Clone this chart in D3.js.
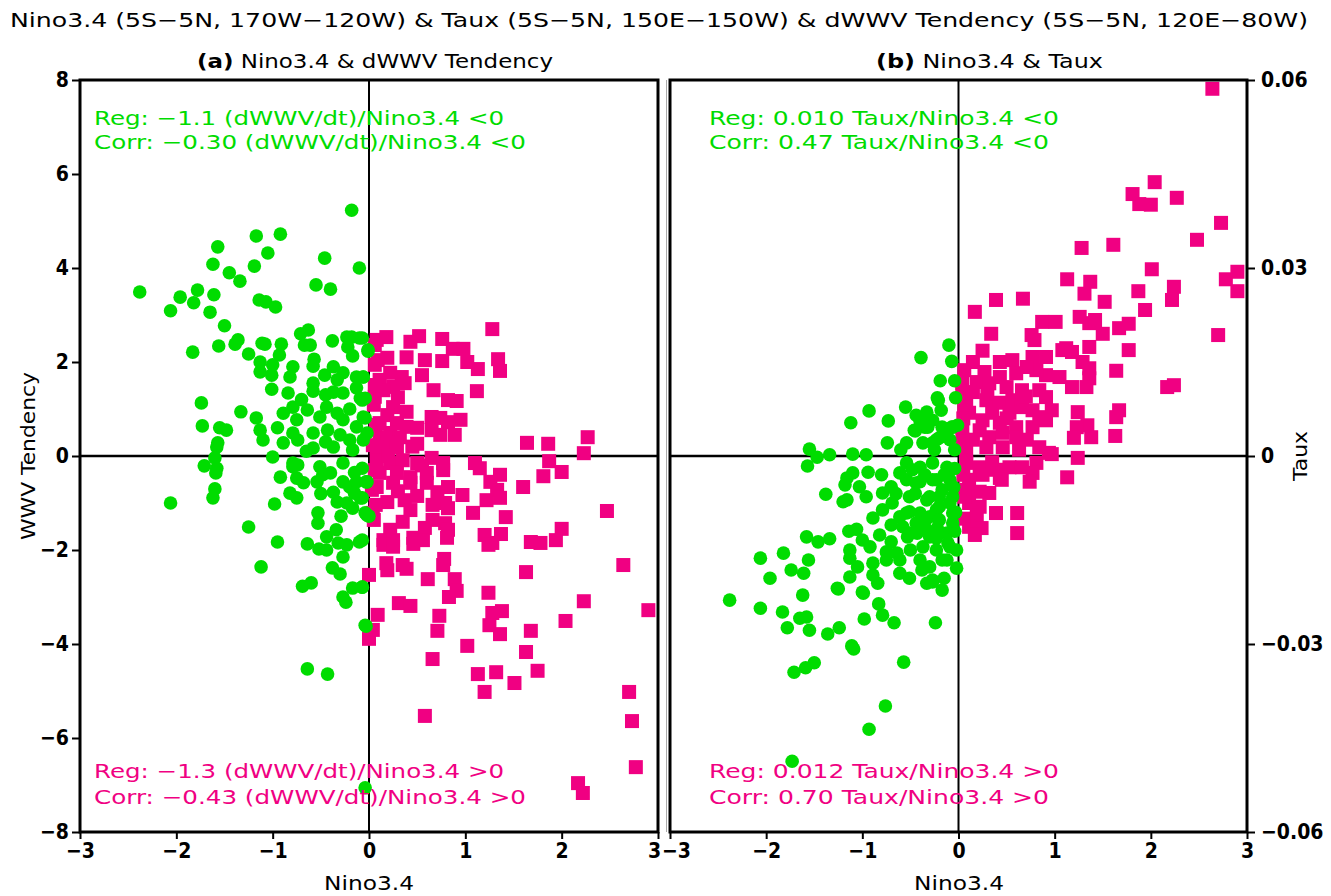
<!DOCTYPE html>
<html>
<head>
<meta charset="utf-8">
<script src="https://cdn.jsdelivr.net/npm/d3@7"></script>
<style>
  body { margin: 0; background: #fff; }
  svg { display: block; background: #fff; }
</style>
</head>
<body>
<svg id="chart" width="1331" height="896"></svg>
<script>
'use strict'

/****** DATA ******/

const X_TICKS = [-3, -2, -1, 0, 1, 2, 3]
const WWV_TICKS = [-8, -6, -4, -2, 0, 2, 4, 6, 8]
const TAUX_TICKS = [-0.06, -0.03, 0, 0.03, 0.06]
const TAUX_TICK_LABELS = ['−0.06', '−0.03', '0', '0.03', '0.06']

const TITLE = 'Nino3.4 (5S−5N, 170W−120W) & Taux (5S−5N, 150E−150W) & dWWV Tendency (5S−5N, 120E−80W)'
const STATS_A_NEG = ['Reg: −1.1 (dWWV/dt)/Nino3.4 <0', 'Corr: −0.30 (dWWV/dt)/Nino3.4 <0']
const STATS_A_POS = ['Reg: −1.3 (dWWV/dt)/Nino3.4 >0', 'Corr: −0.43 (dWWV/dt)/Nino3.4 >0']
const STATS_B_NEG = ['Reg: 0.010 Taux/Nino3.4 <0', 'Corr: 0.47 Taux/Nino3.4 <0']
const STATS_B_POS = ['Reg: 0.012 Taux/Nino3.4 >0', 'Corr: 0.70 Taux/Nino3.4 >0']

// (a) [Nino3.4, dWWV/dt] where Nino3.4 < 0
const wwvNeg = [
  [-0.18,5.23],[-0.92,4.72],[-1.17,4.68],[-1.57,4.45],[-1.05,4.32],[-0.46,4.21],[-1.62,4.08],[-1.19,4.04],
  [-0.10,4.0],[-1.45,3.9],[-1.34,3.72],[-0.55,3.64],[-0.40,3.55],[-2.38,3.49],[-1.78,3.53],[-1.96,3.38],
  [-1.61,3.43],[-1.82,3.26],[-2.06,3.09],[-1.65,3.06],[-1.14,3.32],[-1.07,3.28],[-0.97,3.17],[-1.50,2.77],
  [-1.83,2.21],[-1.56,2.34],[-1.39,2.38],[-1.36,2.47],[-1.25,2.17],[-1.13,2.0],[-1.11,2.40],[-1.08,2.38],
  [-0.91,2.38],[-0.93,2.15],[-0.71,2.6],[-0.63,2.68],[-0.67,2.36],[-0.61,2.36],[-0.38,2.45],[-0.23,2.53],
  [-0.18,2.53],[-0.10,2.51],[-0.22,2.32],[-0.01,2.23],[-0.17,2.13],[-0.57,2.06],[-0.58,1.91],[-1.13,1.79],
  [-1.0,1.94],[-0.79,1.90],[-0.82,1.68],[-1.01,1.72],[-0.46,1.72],[-0.37,1.90],[-0.33,1.62],[-0.27,1.77],
  [-0.13,1.68],[-0.06,1.68],[-0.58,1.55],[-0.58,1.38],[-1.01,1.42],[-0.84,1.34],[-0.37,1.36],[-0.27,1.34],
  [-0.13,1.45],[-0.09,1.23],[-1.74,1.13],[-1.33,0.94],[-1.17,0.81],[-1.13,0.55],[-1.10,0.34],[-1.73,0.64],
  [-1.55,0.60],[-1.48,0.55],[-1.57,0.28],[-1.58,0.19],[-1.60,-0.04],[-1.71,-0.21],[-1.58,-0.26],
  [-0.89,0.91],[-0.79,1.04],[-0.64,0.98],[-0.75,0.77],[-0.58,0.49],[-0.79,0.49],[-0.89,0.28],[-0.74,0.34],
  [-0.58,0.17],[-0.51,0.83],[-0.44,1.04],[-0.33,0.91],[-0.27,0.77],[-0.43,0.55],[-0.37,0.19],[-0.20,0.34],
  [-0.13,0.62],[-0.07,1.19],[-0.06,0.83],[-0.02,0.49],[-0.17,0.13],[-1.0,-0.02],[-0.79,-0.15],[-0.51,-0.23],
  [-0.27,-0.15],[-1.59,-0.36],[-1.60,-0.70],[-1.62,-0.89],[-2.06,-1.0],[-1.25,-1.51],[-0.98,-1.02],[-0.92,-0.45],
  [-0.79,-0.23],[-0.74,-0.19],[-0.75,-0.47],[-0.68,-0.57],[-0.82,-0.79],[-0.75,-0.89],[-0.54,-0.55],[-0.48,-0.40],
  [-0.40,-0.36],[-0.37,-0.77],[-0.33,-0.98],[-0.53,-1.21],[-0.53,-1.43],[-0.29,-1.28],[-0.23,-1.0],[-0.17,-1.11],
  [-0.27,-0.55],[-0.20,-0.66],[-0.13,-0.55],[-0.15,-0.79],[-0.09,-0.89],[-0.02,-0.55],[-0.04,-1.21],[0,-1.28],
  [-0.95,-1.83],[-0.64,-1.87],[-0.52,-1.98],[-0.44,-2.0],[-0.44,-1.72],[-0.34,-1.57],[-0.32,-1.85],[-0.23,-1.89],
  [-0.10,-1.83],[-0.27,-2.15],[-1.12,-2.36],[-0.38,-2.38],[-0.30,-2.51],[-0.69,-2.77],[-0.60,-2.70],[-0.17,-2.81],
  [-0.07,-2.79],[-0.27,-3.0],[-0.24,-3.11],[-0.03,-3.62],[-0.64,-4.53],[-0.43,-4.64],[-0.04,-7.06],
  [-0.07,2.51],[-0.01,2.26],[-0.06,1.68],[-0.04,1.23],[-0.04,0.81],[-0.06,0.34],[-0.07,-0.26],[-0.03,-0.55],
  [-0.07,-0.89],[-0.02,-1.26],[-0.07,-1.79],[-0.07,-2.79],[-0.04,-3.60],
  [-0.45,1.30],[-0.70,1.20],[-0.95,0.60],[-0.45,0.30],[-0.65,0.10],[-0.30,0.45],[-0.20,1.00],[-0.50,-0.80],
  [-0.15,-0.35]
]

// (a) [Nino3.4, dWWV/dt] where Nino3.4 > 0
const wwvPos = [
  [1.28,2.70],[0.18,2.53],[0.08,2.47],[0.43,2.43],[0.52,2.55],[0.76,2.49],[0.87,2.28],[0.98,2.28],
  [1.34,2.06],[1.36,1.81],[1.13,1.85],[1.02,2.0],[0.76,2.02],[0.58,2.04],[0.39,2.1],[0.19,2.09],
  [0.09,2.04],[0.55,1.72],[0.22,1.77],[0.11,1.62],[0.34,1.68],[0.37,1.55],[0.25,1.47],[0.15,1.40],
  [0.06,1.26],[0.67,1.40],[0.82,1.19],[0.91,1.17],[1.12,1.38],[0.25,1.04],[0.39,0.94],[0.19,0.87],
  [0.11,0.70],[0.29,0.70],[0.39,0.62],[0.50,0.60],[0.22,0.49],[0.11,0.40],[0.32,0.40],[0.19,0.28],
  [0.29,0.19],[0.08,0.19],[0.65,0.83],[0.74,0.81],[0.82,0.72],[0.95,0.77],[0.65,0.55],[0.74,0.45],
  [0.89,0.45],[0.50,0.26],[1.64,0.28],[1.86,0.26],[2.27,0.40],[2.23,0.06],[1.87,-0.11],
  [0.08,-0.09],[0.22,-0.15],[0.35,-0.09],[0.50,-0.15],[0.65,-0.04],[0.77,-0.15],[0.11,-0.36],[0.29,-0.36],
  [0.43,-0.45],[0.60,-0.36],[0.77,-0.30],[0.08,-0.66],[0.25,-0.57],[0.43,-0.57],[0.60,-0.57],[0.82,-0.66],
  [0.71,-0.77],[0.97,-0.83],[1.10,-0.15],[1.15,-0.26],[1.36,-0.40],[1.26,-0.55],[1.33,-0.72],[1.60,-0.66],
  [1.81,-0.43],[2.0,-0.34],[1.22,-0.94],[1.36,-0.89],[1.08,-1.21],[1.42,-1.30],[2.47,-1.17],
  [0.19,-0.98],[0.37,-0.94],[0.43,-1.15],[0.66,-1.04],[0.79,-1.0],[0.82,-1.11],[0.04,-1.21],[0.35,-1.40],
  [0.22,-1.57],[0.66,-1.36],[0.79,-1.43],[0.82,-1.57],[0.58,-1.53],[0.15,-1.79],[0.25,-1.79],[0.46,-1.74],
  [0.56,-1.79],[0.81,-1.74],[1.20,-1.68],[1.37,-1.66],[1.28,-1.85],[1.68,-1.83],[1.78,-1.85],[1.94,-1.79],
  [2.0,-1.55],[0.15,-1.89],[0.25,-1.93],[0.46,-1.87],[1.24,-1.89],
  [0.18,-2.28],[0.19,-2.43],[0.35,-2.32],[0.39,-2.40],[0.78,-2.19],[0.77,-2.32],[0.0,-2.53],[0.61,-2.62],
  [0.89,-2.62],[0.91,-2.87],[0.83,-3.0],[1.24,-2.91],[1.63,-2.47],[2.64,-2.32],[2.23,-3.09],[2.90,-3.28],
  [2.04,-3.51],[0.31,-3.13],[0.43,-3.19],[0.09,-3.38],[0.73,-3.40],[1.28,-3.34],[1.38,-3.30],[1.25,-3.60],
  [1.36,-3.79],[1.68,-3.72],[0.04,-3.70],[0.0,-3.89],[0.71,-3.72],[1.02,-4.04],[1.63,-4.17],[0.66,-4.32],
  [1.75,-4.57],[1.13,-4.64],[1.32,-4.60],[1.20,-5.02],[1.51,-4.83],[2.70,-5.02],[2.73,-5.64],[0.58,-5.53],
  [2.77,-6.62],[2.17,-6.96],[2.22,-7.17],
  [0.06,2.36],[0.06,1.94],[0.06,1.51],[0.05,1.09],[0.07,0.66],[0.04,0.23],[0.06,-0.30],[0.03,-0.72],
  [0.07,-1.04],[0.05,-1.36],
  [0.30,1.25],[0.45,0.20],[0.55,-0.20],[0.30,-0.75],[0.50,-0.85],[0.20,0.00]
]

// (b) [Nino3.4, Taux] where Nino3.4 < 0
const tauxNeg = [
  [-0.10,0.0177],[-0.39,0.0157],[-0.07,0.0151],[-0.19,0.0120],[-0.03,0.0093],[-0.22,0.0093],[-0.18,0.0073],
  [-0.55,0.0078],[-0.44,0.0065],[-0.33,0.0070],[-0.27,0.0057],[-0.46,0.0041],[-0.35,0.0046],[-0.17,0.0046],
  [-0.06,0.0046],[-0.54,0.0021],[-0.37,0.0021],[-0.23,0.0026],[-0.09,0.0026],[-0.01,0.0049],
  [-0.54,-0.0011],[-0.40,-0.0018],[-0.27,-0.0011],[-0.12,-0.0018],[-0.54,-0.0038],[-0.40,-0.0041],
  [-0.23,-0.0038],[-0.09,-0.0038],[-0.51,-0.0065],[-0.33,-0.0070],[-0.20,-0.0065],[-0.06,-0.0065],
  [-0.54,-0.0091],[-0.40,-0.0091],[-0.23,-0.0086],[-0.06,-0.0091],[-0.51,-0.0123],[-0.33,-0.0118],
  [-0.12,-0.0123],[-0.37,-0.0145],[-0.23,-0.0150],[-0.09,-0.0145],
  [-0.21,0.0089],[-0.93,0.0072],[-0.73,0.0056],[-1.12,0.0053],[-0.40,0.0056],[-0.32,0.0046],[-0.45,0.0040],
  [-0.20,0.0029],[-0.27,0.0021],[-0.74,0.0021],[-0.12,0.0041],[-0.07,0.0046],
  [-1.55,0.0011],[-1.47,-0.0002],[-1.34,0.0002],[-1.10,0.0003],[-0.96,0.0002],[-1.57,-0.0016],
  [-1.16,-0.0035],[-1.10,-0.0027],[-0.94,-0.0026],[-1.18,-0.0046],[-1.03,-0.0049],[-1.16,-0.0070],
  [-0.96,-0.0065],[-0.79,-0.0059],[-0.70,-0.0049],[-0.61,-0.0027],[-0.48,-0.0022],[-0.44,-0.0043],
  [-0.27,-0.0038],[-0.30,-0.0065],[-0.17,-0.0054],[-1.38,-0.0061],[-1.20,-0.0073],
  [-0.89,-0.0099],[-0.79,-0.0086],[-0.69,-0.0075],[-0.61,-0.0097],[-0.51,-0.0089],[-0.44,-0.0107],
  [-0.58,-0.0113],[-0.30,-0.0097],[-0.20,-0.0102],[-0.20,-0.0081],[-0.09,-0.0075],[-0.06,-0.0107],
  [-0.22,-0.0115],[-1.58,-0.0129],[-1.46,-0.0137],[-1.34,-0.0132],[-1.14,-0.0120],[-1.06,-0.0117],
  [-1.00,-0.0134],[-1.13,-0.0150],[-0.92,-0.0145],[-0.82,-0.0126],[-0.70,-0.0137],[-0.75,-0.0153],
  [-0.64,-0.0155],[-0.53,-0.0129],[-0.43,-0.0123],[-0.30,-0.0129],[-0.23,-0.0131],
  [-0.11,-0.0139],[-0.12,-0.0166],[-0.02,-0.0150],[-0.02,-0.0179],
  [-2.06,-0.0163],[-1.82,-0.0155],[-1.56,-0.0166],[-1.74,-0.0182],[-1.61,-0.0187],[-1.96,-0.0195],
  [-1.13,-0.0163],[-1.05,-0.0177],[-1.13,-0.0193],[-0.89,-0.0171],[-0.89,-0.0190],[-0.75,-0.0166],
  [-0.61,-0.0166],[-0.61,-0.0187],[-0.51,-0.0195],[-0.40,-0.0166],[-0.38,-0.0182],[-0.30,-0.0177],
  [-0.17,-0.0166],[-0.27,-0.0198],[-0.15,-0.0195],
  [-1.26,-0.0211],[-1.00,-0.0217],[-0.84,-0.0203],[-2.38,-0.0230],[-1.62,-0.0222],
  [-2.06,-0.0243],[-1.83,-0.0249],[-1.65,-0.0259],[-1.58,-0.0257],[-1.78,-0.0274],[-1.55,-0.0278],
  [-1.36,-0.0284],[-1.24,-0.0274],[-1.25,-0.0212],[-0.99,-0.0219],[-0.83,-0.0236],[-0.79,-0.0254],
  [-0.98,-0.0260],[-0.67,-0.0266],[-1.11,-0.0303],[-1.09,-0.0308],[-0.33,-0.0203],[-0.27,-0.0201],
  [-0.17,-0.0214],[-0.24,-0.0266],[-0.57,-0.0329],[-1.71,-0.0345],[-1.59,-0.0338],[-1.50,-0.0330],
  [-0.76,-0.0399],[-0.93,-0.0436],[-1.73,-0.0487],
  [-0.04,0.0120],[-0.04,0.0010],[-0.04,-0.0020],[-0.05,-0.0050],[-0.03,-0.0090],[-0.04,-0.0120],
  [-0.45,-0.0060],[-0.35,-0.0030],[-0.15,-0.0030],[-0.50,-0.0150],[-0.35,-0.0105],[-0.65,-0.0060],
  [-0.25,0.0010],[-0.60,0.0010],[-0.80,-0.0030],[-0.70,-0.0110]
]

// (b) [Nino3.4, Taux] where Nino3.4 > 0
const tauxPos = [
  [2.64,0.0586],[2.04,0.0437],[1.81,0.0418],[1.88,0.0402],[2.0,0.0401],[2.27,0.0412],[2.73,0.0372],
  [2.48,0.0345],[1.28,0.0332],[1.61,0.0337],[2.01,0.0298],[1.13,0.0282],[1.37,0.0278],[1.31,0.0259],
  [1.52,0.0246],[1.87,0.0263],[2.24,0.0270],[2.22,0.0249],[2.78,0.0282],[2.90,0.0294],[2.90,0.0263],
  [1.94,0.0233],[0.17,0.0230],[0.39,0.0249],[0.67,0.0251],[0.87,0.0214],[1.01,0.0214],[1.26,0.0222],
  [1.36,0.0212],[1.42,0.0217],[1.50,0.0195],[1.67,0.0204],[1.77,0.0211],[2.70,0.0193],[0.34,0.0195],
  [0.76,0.0193],[0.79,0.0185],[0.25,0.0168],[1.12,0.0172],[1.36,0.0174],[1.77,0.0169],
  [1.64,0.0136],[2.17,0.0110],[2.24,0.0113],[0.06,0.0137],
  [0.43,0.0150],[0.56,0.0153],[0.77,0.0158],[0.91,0.0158],[1.08,0.0169],[1.18,0.0166],[1.29,0.0150],
  [1.36,0.0140],[1.36,0.0124],[1.33,0.0110],[1.18,0.0110],[1.05,0.0126],[0.91,0.0129],[0.81,0.0137],
  [0.71,0.0142],[0.27,0.0134],[0.43,0.0126],[0.60,0.0132],[0.19,0.0118],[0.32,0.0116],[0.50,0.0110],
  [0.66,0.0105],[0.84,0.0105],[0.91,0.0094],[0.97,0.0073],[0.91,0.0057],[0.77,0.0046],[0.60,0.0046],
  [0.43,0.0053],[0.25,0.0057],[0.11,0.0069],[0.08,0.0089],[0.15,0.0102],[0.29,0.0089],[0.43,0.0085],
  [0.56,0.0089],[0.66,0.0078],[0.77,0.0073],[0.84,0.0062],[0.53,0.0069],[0.35,0.0069],[0.22,0.0041],
  [0.32,0.0030],[0.46,0.0037],[0.60,0.0030],[0.71,0.0026],[0.15,0.0026],[0.29,0.0014],[0.46,0.0014],
  [0.63,0.0010],[0.84,0.0014],[0.94,0.0005],[0.08,0.0005],[0.04,0.0026],[0.04,0.0046],[0.04,0.0116],
  [0.06,0.0073],[1.24,0.0070],[1.34,0.0049],[1.23,0.0046],[1.38,0.0030],[1.20,0.0029],[1.67,0.0073],
  [1.64,0.0062],[1.63,0.0032],[1.24,-0.0003],[0.97,0.0003],[1.13,-0.0034],
  [0.08,-0.0011],[0.22,-0.0018],[0.39,-0.0022],[0.53,-0.0018],[0.66,-0.0018],[0.81,-0.0011],[0.77,-0.0027],
  [0.74,-0.0041],[0.43,-0.0035],[0.25,-0.0030],[0.11,-0.0038],[0.08,-0.0054],[0.22,-0.0057],[0.32,-0.0059],
  [0.11,-0.0075],[0.22,-0.0081],[0.39,-0.0091],[0.19,-0.0097],[0.11,-0.0113],[0.24,-0.0115],[0.17,-0.0126],
  [0.61,-0.0091],[0.61,-0.0123],[0.45,-0.0038],
  [0.05,-0.0030],[0.06,-0.0065],[0.05,-0.0100],[0.04,0.0100],[0.05,0.0060],
  [0.30,0.0100],[0.50,0.0060],[0.70,0.0095],[0.35,-0.0010],[0.15,0.0150]
]

/****** STYLE ******/

const GREEN = '#00dc00'
const MAGENTA = '#f00082'
const TXT_FONT = "'DejaVu Sans', sans-serif"
const TICK_FONT = "'Liberation Sans Narrow', 'DejaVu Sans Condensed', sans-serif"

const TOP = 80, BOTTOM = 832

const svg = d3.select('#chart')

// scales
const xA = d3.scaleLinear().domain([-3, 3]).range([80, 658])
const yA = d3.scaleLinear().domain([-8, 8]).range([BOTTOM, TOP])
const xB = d3.scaleLinear().domain([-3, 3]).range([670, 1247])
const yB = d3.scaleLinear().domain([-0.06, 0.06]).range([BOTTOM, TOP])

/****** FUNCTIONS ******/

function label(x, y, str, opts = {}) {
  const t = svg.append('text')
    .attr('x', x)
    .attr('y', y)
    .attr('font-family', TXT_FONT)
    .attr('font-size', opts.size || 20)
    .attr('fill', opts.color || '#000')
    .attr('text-anchor', opts.anchor || 'start')
    .text(str)
  if (opts.len) t.attr('textLength', opts.len).attr('lengthAdjust', 'spacingAndGlyphs')
  if (opts.rotate) t.attr('transform', `rotate(-90,${x},${y})`)
  return t
}

function styleAxis(g) {
  g.select('.domain').remove()
  g.selectAll('.tick line').attr('stroke', '#000').attr('stroke-width', 2)
  g.selectAll('.tick text')
    .attr('font-family', TICK_FONT)
    .attr('font-weight', 'bold')
    .attr('font-size', 21)
    .attr('fill', '#000')
}

function drawPanel(x, y, neg, pos) {
  const g = svg.append('g')
  const [x0, x1] = x.range()

  // zero lines
  g.append('line')
    .attr('x1', x(0)).attr('x2', x(0))
    .attr('y1', TOP).attr('y2', BOTTOM)
    .attr('stroke', '#000').attr('stroke-width', 2)
  g.append('line')
    .attr('x1', x0).attr('x2', x1)
    .attr('y1', y(0)).attr('y2', y(0))
    .attr('stroke', '#000').attr('stroke-width', 2.5)

  // Nino3.4 > 0 squares, then Nino3.4 < 0 dots on top
  g.selectAll('rect.pos')
    .data(pos)
    .join('rect')
      .attr('class', 'pos')
      .attr('x', d => x(d[0]) - 7)
      .attr('y', d => y(d[1]) - 7)
      .attr('width', 14)
      .attr('height', 14)
      .attr('fill', MAGENTA)

  g.selectAll('circle.neg')
    .data(neg)
    .join('circle')
      .attr('class', 'neg')
      .attr('cx', d => x(d[0]))
      .attr('cy', d => y(d[1]))
      .attr('r', 6.8)
      .attr('fill', GREEN)

  // frame
  g.append('rect')
    .attr('x', x0).attr('y', TOP)
    .attr('width', x1 - x0).attr('height', BOTTOM - TOP)
    .attr('fill', 'none')
    .attr('stroke', '#000')
    .attr('stroke-width', 3)
}

/****** DRAW ******/

drawPanel(xA, yA, wwvNeg, wwvPos)
drawPanel(xB, yB, tauxNeg, tauxPos)

// faint line left of panel b
svg.append('line')
  .attr('x1', 666.5).attr('x2', 666.5)
  .attr('y1', TOP).attr('y2', BOTTOM)
  .attr('stroke', '#aaa').attr('stroke-width', 1)

// axes
const axA = svg.append('g')
  .attr('transform', `translate(0,${BOTTOM})`)
  .call(d3.axisBottom(xA).tickValues(X_TICKS).tickSize(7).tickPadding(4).tickFormat(d3.format('d')))
  .call(styleAxis)

const axB = svg.append('g')
  .attr('transform', `translate(0,${BOTTOM})`)
  .call(d3.axisBottom(xB).tickValues(X_TICKS).tickSize(7).tickPadding(4).tickFormat(d3.format('d')))
  .call(styleAxis)

// the "3" and "-3" labels meet between the panels: nudge them apart a little
axA.selectAll('.tick text').filter(d => d === 3).attr('dx', -4)
axB.selectAll('.tick text').filter(d => d === -3).attr('dx', 6)

svg.append('g')
  .attr('transform', 'translate(80,0)')
  .call(d3.axisLeft(yA).tickValues(WWV_TICKS).tickSize(8).tickPadding(3).tickFormat(d3.format('d')))
  .call(styleAxis)

svg.append('g')
  .attr('transform', 'translate(1247,0)')
  .call(d3.axisRight(yB).tickValues(TAUX_TICKS).tickSize(8).tickPadding(6).tickFormat((d, i) => TAUX_TICK_LABELS[i]))
  .call(styleAxis)

// titles
label(659, 27, TITLE, { anchor: 'middle', len: 1298 })

const subA = label(197, 68, '', { len: 356 })
subA.append('tspan').attr('font-weight', 'bold').text('(a)')
subA.append('tspan').text(' Nino3.4  &  dWWV Tendency')

const subB = label(876, 68, '', { len: 227 })
subB.append('tspan').attr('font-weight', 'bold').text('(b)')
subB.append('tspan').text(' Nino3.4  &  Taux')

// axis titles
label(369, 890, 'Nino3.4', { anchor: 'middle', len: 90 })
label(959, 890, 'Nino3.4', { anchor: 'middle', len: 90 })
label(35, 456, 'WWV Tendency', { anchor: 'middle', len: 168, rotate: true })
label(1307, 456, 'Taux', { anchor: 'middle', len: 50, rotate: true })

// regression / correlation notes
label(94, 125, STATS_A_NEG[0], { color: GREEN, len: 410 })
label(94, 149, STATS_A_NEG[1], { color: GREEN, len: 432 })
label(94, 778, STATS_A_POS[0], { color: MAGENTA, len: 410 })
label(94, 804, STATS_A_POS[1], { color: MAGENTA, len: 432 })

label(709, 125, STATS_B_NEG[0], { color: GREEN, len: 350 })
label(709, 149, STATS_B_NEG[1], { color: GREEN, len: 340 })
label(709, 778, STATS_B_POS[0], { color: MAGENTA, len: 350 })
label(709, 804, STATS_B_POS[1], { color: MAGENTA, len: 340 })
</script>
</body>
</html>
